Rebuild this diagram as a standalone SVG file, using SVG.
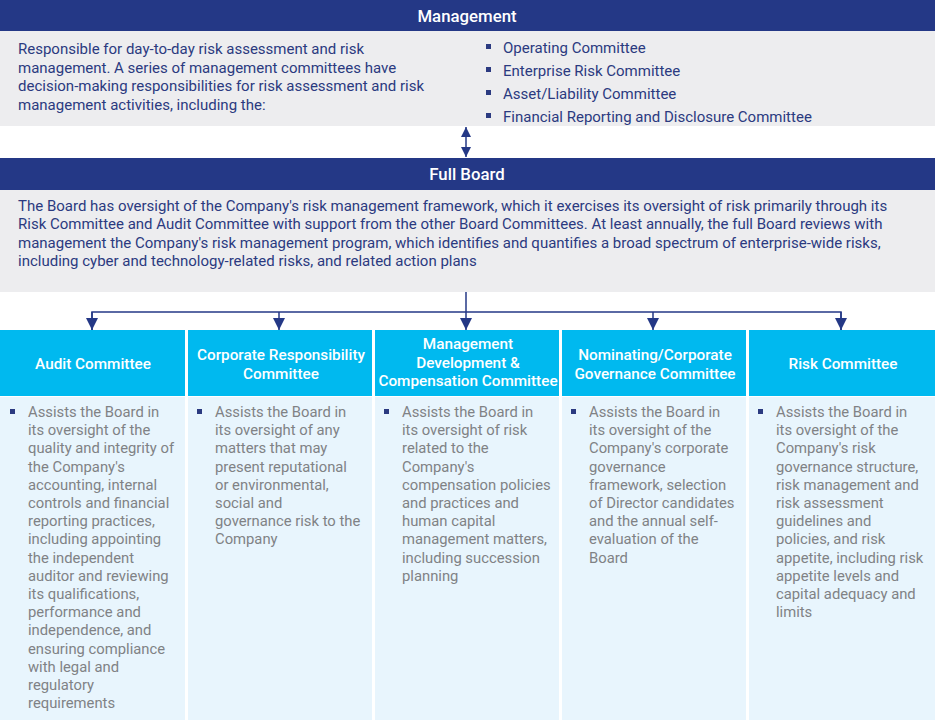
<svg xmlns="http://www.w3.org/2000/svg" width="935" height="720" viewBox="0 0 935 720">
<defs>
<style>
.bar{fill:#243886}
.gray{fill:#ededef}
.hd{fill:#00b9ef}
.bd{fill:#e8f5fd}
.bt{font-family:Roboto,"Liberation Sans",sans-serif;font-size:16.8px;font-weight:500;fill:#fff;text-anchor:middle}
.nv{font-family:Roboto,"Liberation Sans",sans-serif;font-size:15px;fill:#2b3a80}
.ch{font-family:Roboto,"Liberation Sans",sans-serif;font-size:15.3px;font-weight:500;fill:#fff;text-anchor:middle}
.gt{font-family:Roboto,"Liberation Sans",sans-serif;font-size:14.8px;fill:#808285}
.bl{fill:#2b3a80}
.ln{stroke:#243886;stroke-width:1.5;fill:none}
</style>
<marker id="ah" viewBox="0 0 10 10" refX="10" refY="5" markerWidth="10" markerHeight="10" markerUnits="userSpaceOnUse" orient="auto-start-reverse">
<path d="M0,0 L10,5 L0,10 z" fill="#243886"/>
</marker>
<marker id="ad" viewBox="0 0 12 12" refX="12" refY="6" markerWidth="12" markerHeight="12" markerUnits="userSpaceOnUse" orient="auto">
<path d="M0,0 L12,6 L0,12 z" fill="#243886"/>
</marker>
</defs>
<rect width="935" height="720" fill="#fff"/>

<g id="management">
<rect class="bar" x="0" y="0" width="935" height="31"/>
<text class="bt" x="467" y="22">Management</text>
<rect class="gray" x="0" y="31" width="935" height="95"/>
<text class="nv" x="18" y="54">Responsible for day-to-day risk assessment and risk</text>
<text class="nv" x="18" y="73">management. A series of management committees have</text>
<text class="nv" x="18" y="91">decision-making responsibilities for risk assessment and risk</text>
<text class="nv" x="18" y="110">management activities, including the:</text>
<rect class="bl" x="486" y="44" width="5" height="5"/>
<text class="nv" x="503" y="53">Operating Committee</text>
<rect class="bl" x="486" y="67" width="5" height="5"/>
<text class="nv" x="503" y="76">Enterprise Risk Committee</text>
<rect class="bl" x="486" y="90" width="5" height="5"/>
<text class="nv" x="503" y="99">Asset/Liability Committee</text>
<rect class="bl" x="486" y="113" width="5" height="5"/>
<text class="nv" x="503" y="122">Financial Reporting and Disclosure Committee</text>
</g>

<g id="full-board">
<rect class="bar" x="0" y="158" width="935" height="32"/>
<text class="bt" x="467" y="180">Full Board</text>
<rect class="gray" x="0" y="190" width="935" height="102"/>
<text class="nv" x="18" y="211">The Board has oversight of the Company's risk management framework, which it exercises its oversight of risk primarily through its</text>
<text class="nv" x="18" y="229">Risk Committee and Audit Committee with support from the other Board Committees. At least annually, the full Board reviews with</text>
<text class="nv" x="18" y="248">management the Company's risk management program, which identifies and quantifies a broad spectrum of enterprise-wide risks,</text>
<text class="nv" x="18" y="266">including cyber and technology-related risks, and related action plans</text>
</g>

<g id="connectors">
<line class="ln" x1="466" y1="127" x2="466" y2="157" marker-start="url(#ah)" marker-end="url(#ah)"/>
<line class="ln" x1="466" y1="292" x2="466" y2="330" marker-end="url(#ad)"/>
<polyline class="ln" points="92,330 92,312 841,312 841,330"/>
<line class="ln" x1="92" y1="312" x2="92" y2="330" marker-end="url(#ad)"/>
<line class="ln" x1="279" y1="312" x2="279" y2="330" marker-end="url(#ad)"/>
<line class="ln" x1="653" y1="312" x2="653" y2="330" marker-end="url(#ad)"/>
<line class="ln" x1="841" y1="312" x2="841" y2="330" marker-end="url(#ad)"/>
</g>

<g id="audit-committee">
<rect class="hd" x="0" y="330" width="185" height="66"/>
<text class="ch" x="93" y="369">Audit Committee</text>
<rect class="bd" x="0" y="397" width="185" height="323"/>
<rect class="bl" x="10" y="409" width="5" height="5"/>
<text class="gt" x="28"><tspan x="28" y="417">Assists the Board in</tspan><tspan x="28" y="435.2">its oversight of the</tspan><tspan x="28" y="453.4">quality and integrity of</tspan><tspan x="28" y="471.6">the Company's</tspan><tspan x="28" y="489.8">accounting, internal</tspan><tspan x="28" y="508">controls and financial</tspan><tspan x="28" y="526.2">reporting practices,</tspan><tspan x="28" y="544.4">including appointing</tspan><tspan x="28" y="562.6">the independent</tspan><tspan x="28" y="580.8">auditor and reviewing</tspan><tspan x="28" y="599">its qualifications,</tspan><tspan x="28" y="617.2">performance and</tspan><tspan x="28" y="635.4">independence, and</tspan><tspan x="28" y="653.6">ensuring compliance</tspan><tspan x="28" y="671.8">with legal and</tspan><tspan x="28" y="690">regulatory</tspan><tspan x="28" y="708.2">requirements</tspan></text>
</g>

<g id="corporate-responsibility-committee">
<rect class="hd" x="188" y="330" width="184" height="66"/>
<text class="ch"><tspan x="281" y="360">Corporate Responsibility</tspan><tspan x="281" y="379">Committee</tspan></text>
<rect class="bd" x="188" y="397" width="184" height="323"/>
<rect class="bl" x="197" y="409" width="5" height="5"/>
<text class="gt"><tspan x="215" y="417">Assists the Board in</tspan><tspan x="215" y="435.2">its oversight of any</tspan><tspan x="215" y="453.4">matters that may</tspan><tspan x="215" y="471.6">present reputational</tspan><tspan x="215" y="489.8">or environmental,</tspan><tspan x="215" y="508">social and</tspan><tspan x="215" y="526.2">governance risk to the</tspan><tspan x="215" y="544.4">Company</tspan></text>
</g>

<g id="management-development-compensation-committee">
<rect class="hd" x="375" y="330" width="184" height="66"/>
<text class="ch"><tspan x="468" y="349">Management</tspan><tspan x="468" y="368">Development &amp;</tspan><tspan x="468" y="386">Compensation Committee</tspan></text>
<rect class="bd" x="375" y="397" width="184" height="323"/>
<rect class="bl" x="384" y="409" width="5" height="5"/>
<text class="gt"><tspan x="402" y="417">Assists the Board in</tspan><tspan x="402" y="435.2">its oversight of risk</tspan><tspan x="402" y="453.4">related to the</tspan><tspan x="402" y="471.6">Company's</tspan><tspan x="402" y="489.8">compensation policies</tspan><tspan x="402" y="508">and practices and</tspan><tspan x="402" y="526.2">human capital</tspan><tspan x="402" y="544.4">management matters,</tspan><tspan x="402" y="562.6">including succession</tspan><tspan x="402" y="580.8">planning</tspan></text>
</g>

<g id="nominating-corporate-governance-committee">
<rect class="hd" x="562" y="330" width="184" height="66"/>
<text class="ch"><tspan x="655" y="360">Nominating/Corporate</tspan><tspan x="655" y="379">Governance Committee</tspan></text>
<rect class="bd" x="562" y="397" width="184" height="323"/>
<rect class="bl" x="571" y="409" width="5" height="5"/>
<text class="gt"><tspan x="589" y="417">Assists the Board in</tspan><tspan x="589" y="435.2">its oversight of the</tspan><tspan x="589" y="453.4">Company's corporate</tspan><tspan x="589" y="471.6">governance</tspan><tspan x="589" y="489.8">framework, selection</tspan><tspan x="589" y="508">of Director candidates</tspan><tspan x="589" y="526.2">and the annual self-</tspan><tspan x="589" y="544.4">evaluation of the</tspan><tspan x="589" y="562.6">Board</tspan></text>
</g>

<g id="risk-committee">
<rect class="hd" x="749" y="330" width="186" height="66"/>
<text class="ch" x="843" y="369">Risk Committee</text>
<rect class="bd" x="749" y="397" width="186" height="323"/>
<rect class="bl" x="758" y="409" width="5" height="5"/>
<text class="gt"><tspan x="776" y="417">Assists the Board in</tspan><tspan x="776" y="435.2">its oversight of the</tspan><tspan x="776" y="453.4">Company's risk</tspan><tspan x="776" y="471.6">governance structure,</tspan><tspan x="776" y="489.8">risk management and</tspan><tspan x="776" y="508">risk assessment</tspan><tspan x="776" y="526.2">guidelines and</tspan><tspan x="776" y="544.4">policies, and risk</tspan><tspan x="776" y="562.6">appetite, including risk</tspan><tspan x="776" y="580.8">appetite levels and</tspan><tspan x="776" y="599">capital adequacy and</tspan><tspan x="776" y="617.2">limits</tspan></text>
</g>
</svg>
